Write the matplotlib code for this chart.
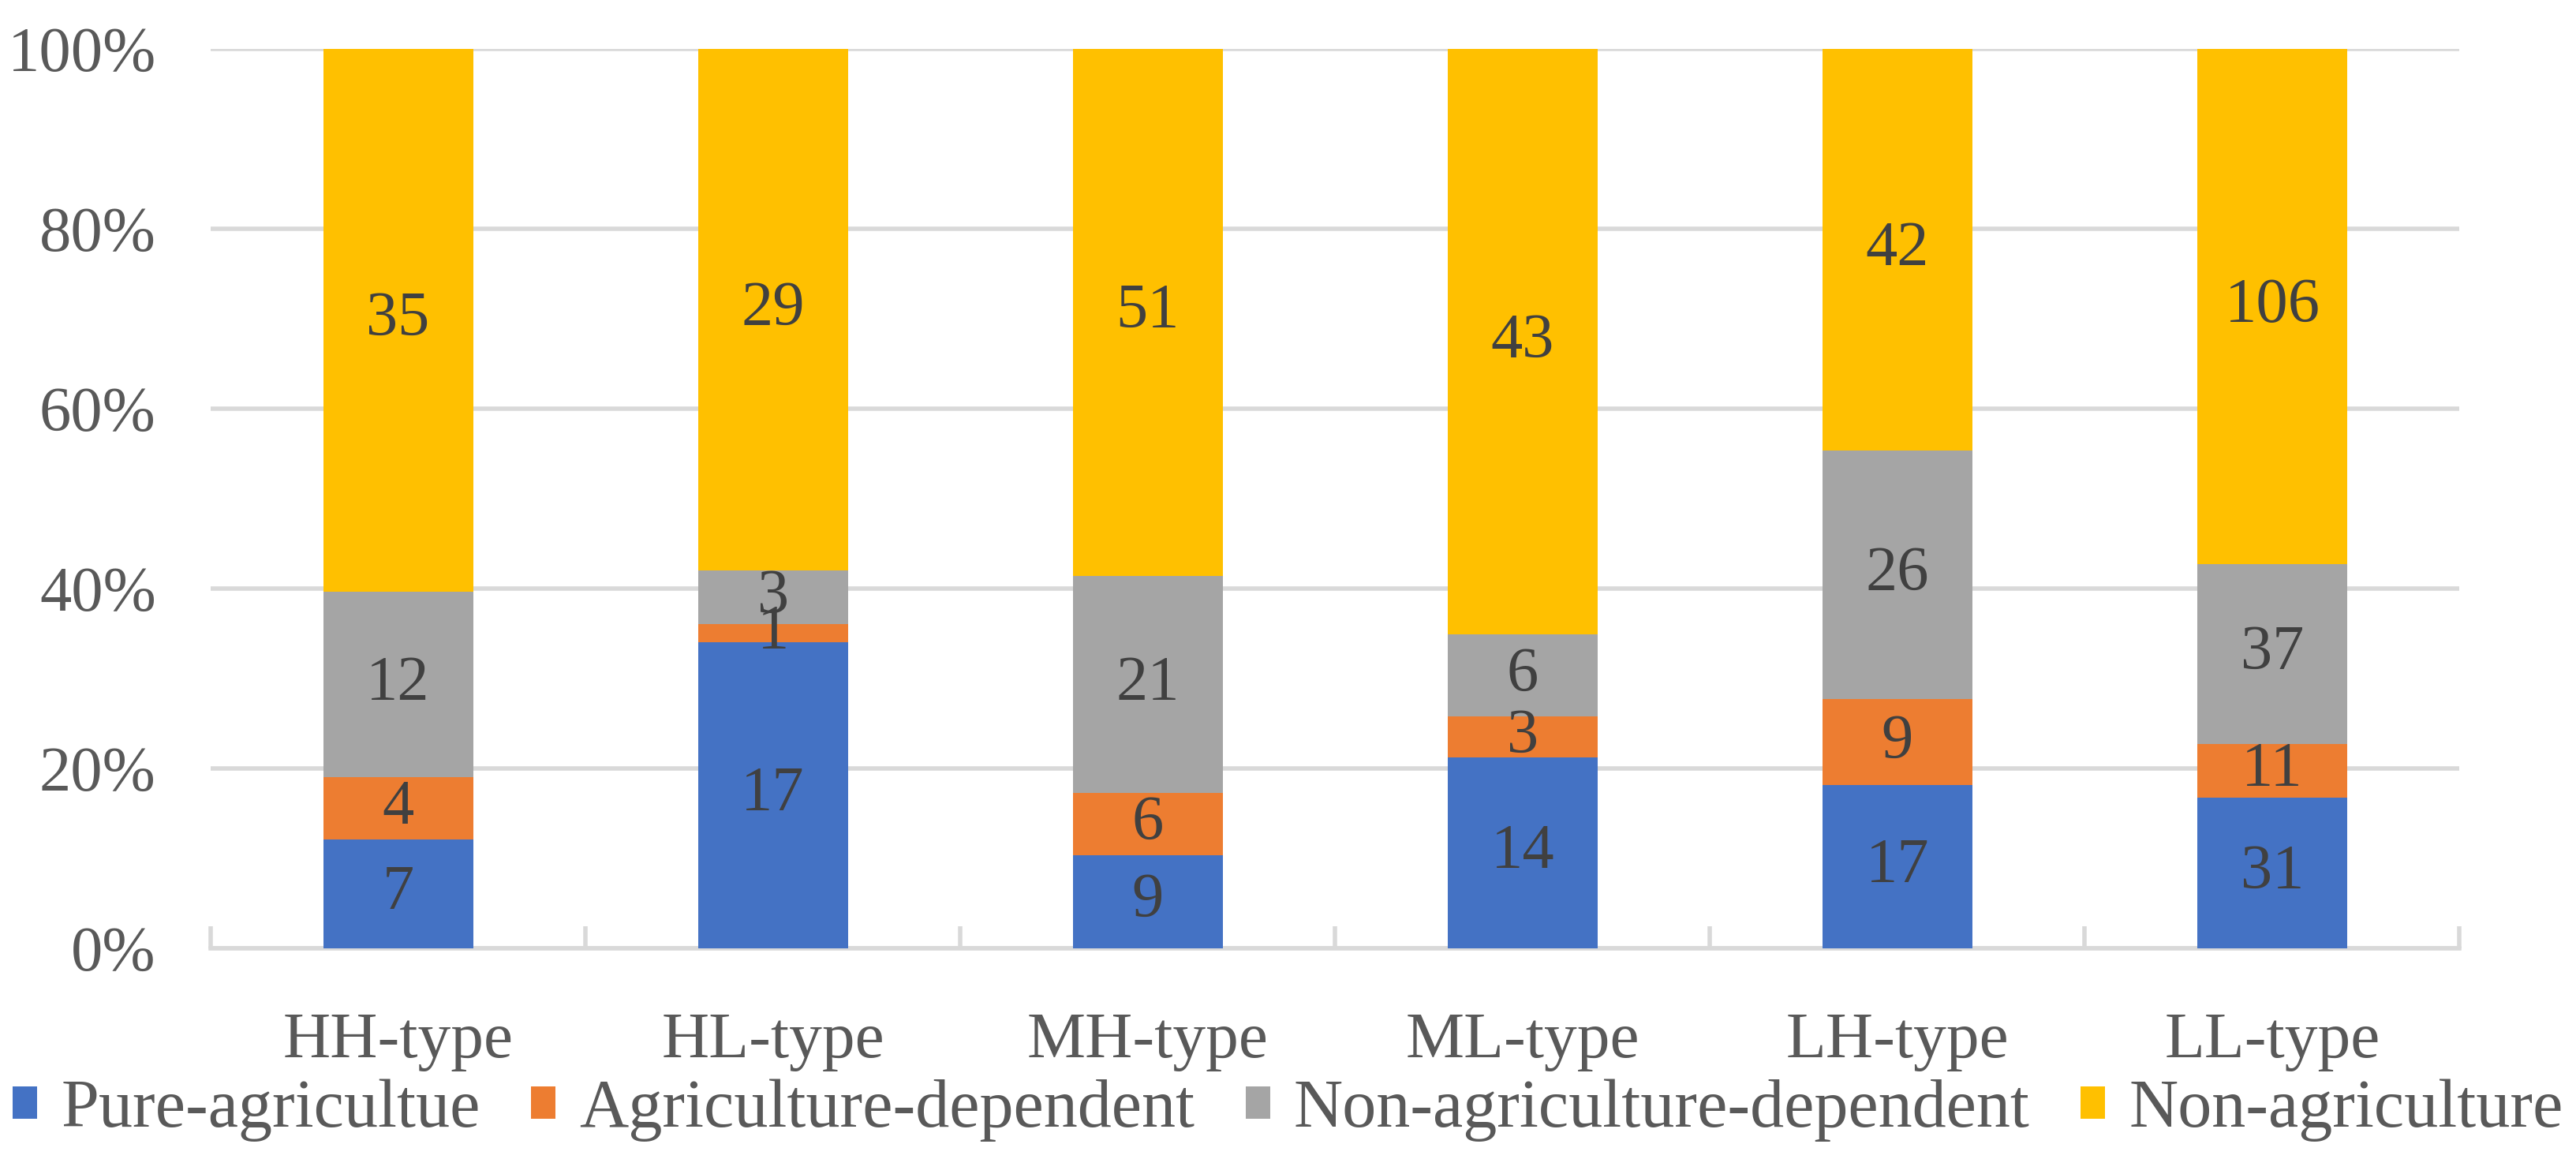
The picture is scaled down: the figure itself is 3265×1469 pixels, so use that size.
import matplotlib
matplotlib.use("Agg")
import matplotlib.pyplot as plt
import numpy as np

categories = ["HH-type", "HL-type", "MH-type", "ML-type", "LH-type", "LL-type"]
series_names = ["Pure-agricultue", "Agriculture-dependent", "Non-agriculture-dependent", "Non-agriculture"]
pure_agri = [7, 17, 9, 14, 17, 31]
agri_dep = [4, 1, 6, 3, 9, 11]
nonagri_dep = [12, 3, 21, 6, 26, 37]
non_agri = [35, 29, 51, 43, 42, 106]
colors = ["#4472C4", "#ED7D31", "#A5A5A5", "#FFC000"]

plt.rcParams['font.family'] = ['Liberation Serif', 'DejaVu Serif']
fs = 58

counts = np.array([pure_agri, agri_dep, nonagri_dep, non_agri], dtype=float)
totals = counts.sum(axis=0)
shares = counts / totals * 100

fig = plt.figure(figsize=(32.65, 14.69), dpi=100)
ax = fig.add_axes([0.0818, 0.182, 0.873, 0.776])
x = np.arange(len(categories))
bottom = np.zeros(len(categories))
for i in range(4):
    bars = ax.bar(x, shares[i], 0.4, bottom=bottom, color=colors[i], label=series_names[i], zorder=3)
    for j, b in enumerate(bars):
        ax.text(b.get_x() + b.get_width() / 2, bottom[j] + shares[i][j] / 2, str(int(counts[i][j])),
                ha='center', va='center', fontsize=fs, color='#404040', zorder=4)
    bottom += shares[i]

ax.set_xlim(-0.5, len(categories) - 0.5)
ax.set_ylim(0, 100)
ax.set_yticks(np.arange(0, 101, 20))
ax.set_yticklabels([f"{v}%" for v in range(0, 101, 20)])
ax.yaxis.grid(True, color='#D9D9D9', linewidth=4)
ax.set_axisbelow(True)
for s in ['top', 'right', 'left']:
    ax.spines[s].set_visible(False)
ax.spines['bottom'].set_color('#D9D9D9')
ax.spines['bottom'].set_linewidth(4)
ax.tick_params(axis='y', length=0, labelsize=fs, labelcolor='#595959', pad=50)
ax.set_xticks(x)
ax.set_xticklabels(categories)
ax.tick_params(axis='x', which='major', length=0, labelsize=fs + 2, labelcolor='#595959', pad=58)
ax.set_xticks(np.arange(-0.5, len(categories), 1), minor=True)
ax.tick_params(axis='x', which='minor', direction='in', length=20, width=4, color='#D9D9D9')

fig.legend(loc='lower center', bbox_to_anchor=(0.5, -0.038), ncol=4, frameon=False, fontsize=62,
           labelcolor='#595959', handlelength=0.36, handleheight=0.36, handletextpad=0.35, columnspacing=0.75)

fig.savefig("out.png", dpi=100)
